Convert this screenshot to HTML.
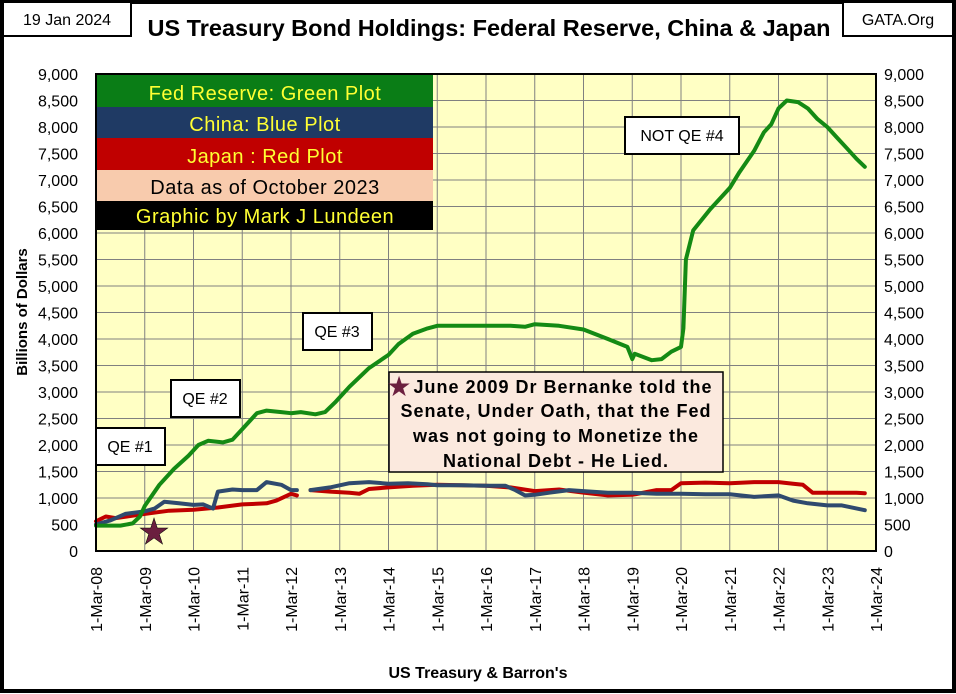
<!DOCTYPE html>
<html><head><meta charset="utf-8"><style>
body{margin:0;background:#fff;}
svg{display:block;font-family:"Liberation Sans",sans-serif;}
</style></head><body>
<svg id="c" width="956" height="694" viewBox="0 0 956 694" xmlns="http://www.w3.org/2000/svg">
<rect x="2" y="2" width="952" height="689" fill="#fff" stroke="#000" stroke-width="4"/>
<rect x="3" y="2" width="128" height="34" fill="#fff" stroke="#000" stroke-width="2"/>
<text x="67" y="25" font-size="16" text-anchor="middle" fill="#000">19 Jan 2024</text>
<text x="489" y="36" font-size="23.5" font-weight="bold" text-anchor="middle" fill="#000">US Treasury Bond Holdings: Federal Reserve, China &amp; Japan</text>
<rect x="843" y="2" width="110" height="34" fill="#fff" stroke="#000" stroke-width="2"/>
<text x="898" y="25" font-size="16" text-anchor="middle" fill="#000">GATA.Org</text>
<rect x="96" y="74" width="780" height="477" fill="#ffffc4"/>
<g id="grid"></g>
<g id="axes"></g>
<g id="series"></g>
<rect x="96" y="74" width="780" height="477" fill="none" stroke="#000" stroke-width="2"/>
<g font-size="20" letter-spacing="0.5" text-anchor="middle">
<rect x="97" y="75" width="336" height="32" fill="#0a7d16"/>
<text x="265" y="100" fill="#ffff33">Fed Reserve: Green Plot</text>
<rect x="97" y="107" width="336" height="31" fill="#1f3a64"/>
<text x="265" y="131" fill="#ffff33">China: Blue Plot</text>
<rect x="97" y="138" width="336" height="32" fill="#c00000"/>
<text x="265" y="163" fill="#ffff33">Japan : Red Plot</text>
<rect x="97" y="170" width="336" height="31" fill="#f8cbad"/>
<text x="265" y="194" fill="#000">Data as of October 2023</text>
<rect x="97" y="201" width="336" height="29" fill="#000"/>
<text x="265" y="223" fill="#ffff33">Graphic by Mark J Lundeen</text>
</g>
<g font-size="16" text-anchor="middle">
<rect x="96" y="428" width="69" height="37" fill="#fff" stroke="#000" stroke-width="2"/>
<text x="130" y="452">QE #1</text>
<rect x="171" y="380" width="69" height="37" fill="#fff" stroke="#000" stroke-width="2"/>
<text x="205" y="404">QE #2</text>
<rect x="303" y="313" width="69" height="37" fill="#fff" stroke="#000" stroke-width="2"/>
<text x="337" y="337">QE #3</text>
<rect x="625" y="117" width="114" height="37" fill="#fff" stroke="#000" stroke-width="2"/>
<text x="682" y="141">NOT QE #4</text>
</g>
<rect x="389" y="372" width="334" height="100" fill="#fbe9de" stroke="#000" stroke-width="1.5"/>
<g font-size="18" letter-spacing="1" font-weight="bold" text-anchor="middle">
<text x="563" y="393">June 2009 Dr Bernanke told the</text>
<text x="556" y="417">Senate, Under Oath, that the Fed</text>
<text x="556" y="442">was not going to Monetize the</text>
<text x="556" y="467">National Debt - He Lied.</text>
</g>
<text x="399" y="396" font-size="28" text-anchor="middle" fill="#6b1f3f">★</text>
<text x="154" y="544" font-size="36" text-anchor="middle" fill="#6b1f3f" stroke="#000" stroke-width="0.5">★</text>
<text transform="translate(27,312) rotate(-90)" font-size="15" font-weight="bold" text-anchor="middle">Billions of Dollars</text>
<text x="478" y="678" font-size="16" font-weight="bold" text-anchor="middle">US Treasury &amp; Barron's</text>
</svg>
<script>
const yTicks=[0,500,1000,1500,2000,2500,3000,3500,4000,4500,5000,5500,6000,6500,7000,7500,8000,8500,9000];
const xTickLabels=["1-Mar-08","1-Mar-09","1-Mar-10","1-Mar-11","1-Mar-12","1-Mar-13","1-Mar-14","1-Mar-15","1-Mar-16","1-Mar-17","1-Mar-18","1-Mar-19","1-Mar-20","1-Mar-21","1-Mar-22","1-Mar-23","1-Mar-24"];
// years since 1-Mar-08
const fedT=[0,0.5,0.75,0.9,1.0,1.3,1.6,1.9,2.1,2.3,2.6,2.8,3.0,3.3,3.5,3.8,4.0,4.2,4.5,4.7,4.9,5.2,5.6,6.0,6.2,6.5,6.8,7.0,7.5,8.0,8.5,8.8,9.0,9.5,10.0,10.5,10.9,11.0,11.05,11.4,11.6,11.8,12.0,12.05,12.1,12.25,12.6,13.0,13.2,13.5,13.7,13.85,14.0,14.17,14.4,14.6,14.8,15.0,15.2,15.4,15.6,15.77];
const fedV=[480,480,520,650,850,1250,1550,1800,2000,2080,2050,2100,2300,2600,2650,2620,2600,2620,2580,2620,2800,3100,3450,3700,3900,4100,4200,4250,4250,4250,4250,4230,4280,4250,4180,4000,3850,3620,3720,3600,3620,3760,3850,4200,5500,6050,6450,6850,7150,7550,7900,8050,8350,8500,8470,8350,8150,8000,7800,7600,7400,7250];
const chinaT=[0,0.3,0.6,1.0,1.2,1.4,1.7,2.0,2.2,2.4,2.5,2.8,3.0,3.3,3.5,3.8,4.0,4.12,null,4.4,4.8,5.2,5.6,6.0,6.4,6.8,7.0,7.5,8.0,8.4,8.6,8.8,9.0,9.3,9.7,10.0,10.5,11.0,11.5,12.0,12.5,13.0,13.5,14.0,14.3,14.6,15.0,15.3,15.77];
const chinaV=[500,580,700,750,800,930,900,870,880,800,1120,1160,1150,1150,1300,1250,1150,1150,null,1150,1200,1280,1300,1270,1280,1260,1240,1240,1230,1230,1150,1050,1060,1100,1150,1130,1100,1100,1080,1080,1070,1070,1020,1050,950,900,860,860,770];
const japanT=[0,0.2,0.4,1.0,1.5,2.0,2.5,3.0,3.5,3.7,4.0,4.12,null,4.4,4.8,5.2,5.4,5.6,6.0,6.5,7.0,7.5,8.0,8.5,9.0,9.5,10.0,10.5,11.0,11.5,11.8,12.0,12.5,13.0,13.5,14.0,14.3,14.5,14.7,15.0,15.3,15.6,15.77];
const japanV=[560,650,620,700,760,780,820,880,900,950,1080,1050,null,1150,1120,1100,1080,1170,1200,1230,1250,1240,1230,1200,1130,1160,1100,1050,1060,1150,1150,1280,1290,1280,1300,1300,1270,1250,1100,1100,1100,1100,1090];
const NS="http://www.w3.org/2000/svg";
const X0=96,X1=876,Y0=551,Y1=74;
const xs=t=>X0+t*(X1-X0)/16;
const ys=v=>Y0-v*(Y0-Y1)/9000;
function mk(tag,attrs,parent){const e=document.createElementNS(NS,tag);for(const k in attrs)e.setAttribute(k,attrs[k]);parent.appendChild(e);return e;}
const grid=document.getElementById('grid'),axes=document.getElementById('axes'),ser=document.getElementById('series');
yTicks.forEach(v=>{
  const l=mk('line',{x1:X0,x2:X1,y1:ys(v),y2:ys(v),stroke:'#808080','stroke-width':1},grid);
  
  
  const s=v.toLocaleString('en-US');
  const a=mk('text',{x:78,y:ys(v)+6,'font-size':16,'text-anchor':'end'},axes);a.textContent=s;
  
  
  const b=mk('text',{x:884,y:ys(v)+6,'font-size':16,'text-anchor':'start'},axes);b.textContent=s;
  
  
});
xTickLabels.forEach((lab,i)=>{
  const x=xs(i);
  const l=mk('line',{x1:x,x2:x,y1:Y1,y2:Y0,stroke:'#808080','stroke-width':1},grid);
  
  
  const t=mk('text',{transform:`translate(${x+6},567) rotate(-90)`,'font-size':16,'text-anchor':'end'},axes);t.textContent=lab;
  
  
});
function line(T,V,color,name){
  let d='',pen=false;
  for(let i=0;i<T.length;i++){
    if(T[i]===null){pen=false;continue;}
    d+=(pen?'L':'M')+xs(T[i]).toFixed(1)+','+ys(V[i]).toFixed(1);pen=true;
  }
  const p=mk('path',{d:d,fill:'none',stroke:color,'stroke-width':4,'stroke-linejoin':'round','stroke-linecap':'round'},ser);
  
  
}
line(japanT,japanV,'#c00000','japan-line');
line(chinaT,chinaV,'#2f4a6e','china-line');
line(fedT,fedV,'#148a14','fed-reserve-line');
</script>
</body></html>
